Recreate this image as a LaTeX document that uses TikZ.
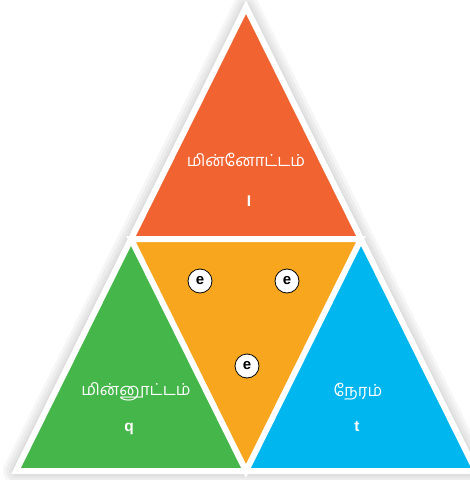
\documentclass[tikz,border=0pt]{standalone}
\usepackage{fontspec}
\setmainfont{Liberation Sans}
\newfontfamily\tamilfont[Script=Tamil]{Hind Madurai}
\usetikzlibrary{calc,positioning}
\definecolor{currentcol}{RGB}{241,100,50}
\definecolor{chargecol}{RGB}{68,182,74}
\definecolor{timecol}{RGB}{0,182,238}
\definecolor{centrecol}{RGB}{247,166,30}
\tikzstyle{gap}    = [draw=white, line width=6pt, line join=miter]
\tikzstyle{glow}   = [draw=black, opacity=0.035, line join=round]
\tikzstyle{tamil}  = [text=white, inner sep=0pt, font=\tamilfont\fontsize{16.5}{18}\selectfont]
\tikzstyle{symbol} = [text=white, inner sep=0pt, font=\bfseries\fontsize{15.5}{17}\selectfont]
\tikzstyle{charge} = [circle, draw=black, fill=white, line width=0.8pt, minimum size=24pt, inner sep=0pt, font=\bfseries\fontsize{15}{17}\selectfont]

\begin{document}
\begin{tikzpicture}[x=1pt, y=-1pt]
      \useasboundingbox (0,0) rectangle (470,480);
      \coordinate (top)   at (246,7);
      \coordinate (left)  at (16,471);
      \coordinate (right) at (476,471);
      \coordinate (midL)  at ($(top)!0.5!(left)$);
      \coordinate (midR)  at ($(top)!0.5!(right)$);
      \coordinate (midB)  at ($(left)!0.5!(right)$);
      % soft shadow round the frame
      \foreach \w in {26,20,14,9}
        \draw[glow, line width=\w pt, yshift=-2pt] (top) -- (left) -- (right) -- cycle;
      % the four parts
      \fill[currentcol] (top) -- (midL) -- (midR) -- cycle;
      \fill[chargecol] (midL) -- (left) -- (midB) -- cycle;
      \fill[timecol] (midR) -- (midB) -- (right) -- cycle;
      \fill[centrecol] (midL) -- (midR) -- (midB) -- cycle;
      \draw[gap] (top) -- (left) -- (right) -- cycle;
      \draw[gap] (midL) -- (midR) -- (midB) -- cycle;
      % labels
      \node[tamil] (current) at (246,160) {மின்னோட்டம்};
      \node[symbol] (I) at (249,201) {I};
      \node[tamil] (charge) at (136,392) {மின்னூட்டம்};
      \node[symbol] (q) at (129,429) {q};
      \node[tamil] (time) at (358,392) {நேரம்};
      \node[symbol] (t) at (357,427) {t};
      \node[charge] (e1) at (200,281) {e};
      \node[charge] (e2) at (287,281) {e};
      \node[charge] (e3) at (247,366) {e};
\end{tikzpicture}
\end{document}
